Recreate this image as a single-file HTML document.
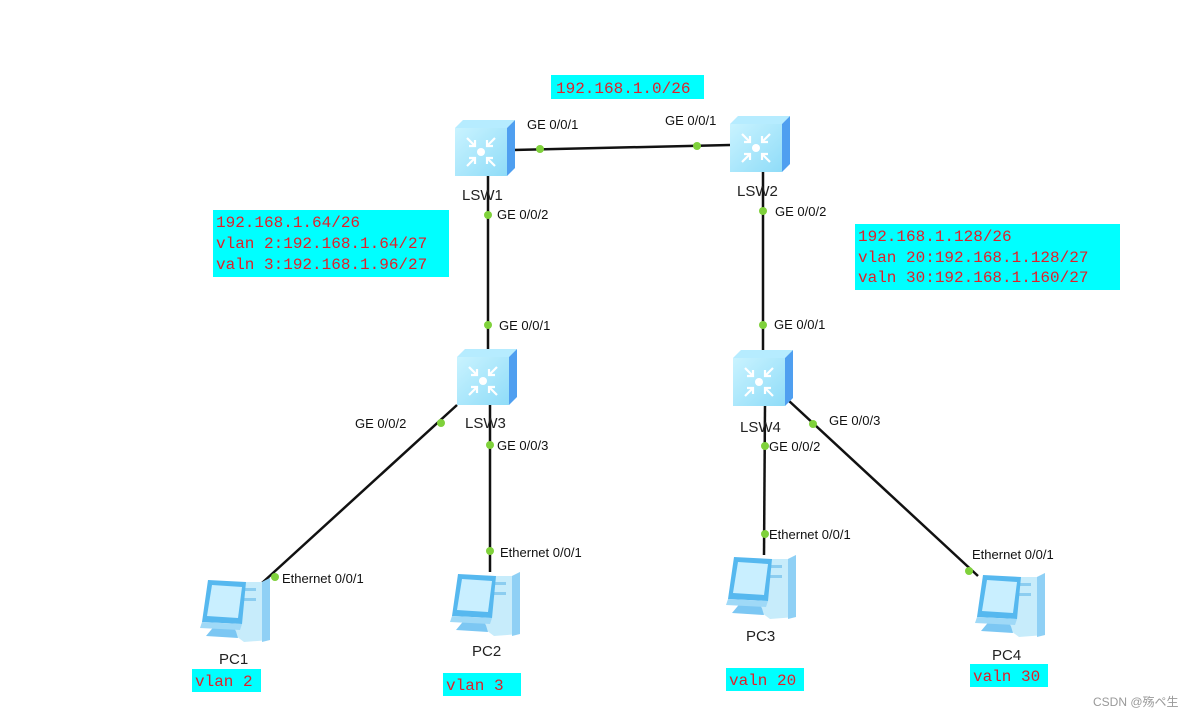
<!DOCTYPE html>
<html><head><meta charset="utf-8"><style>
html,body{margin:0;padding:0;background:#fff;}
svg{display:block;}
.l{font-family:"Liberation Sans",sans-serif;font-size:13px;fill:#111;}
.n{font-family:"Liberation Sans",sans-serif;font-size:15px;fill:#222;}
.r{font-family:"Liberation Mono",monospace;font-size:16px;fill:#e0202a;}
</style></head><body>
<svg width="1195" height="718" viewBox="0 0 1195 718" xmlns="http://www.w3.org/2000/svg">
<defs>
<linearGradient id="sg" x1="0" y1="0" x2="1" y2="1"><stop offset="0" stop-color="#c9f3ff"/><stop offset="1" stop-color="#8fdcf8"/></linearGradient>
<g id="sw">
  <polygon points="0,8 8,0 60,0 52,8" fill="#b6ecff"/>
  <polygon points="52,8 60,0 60,48 52,56" fill="#4f9ff0"/>
  <rect x="0" y="8" width="52" height="48" fill="url(#sg)"/>
  <circle cx="26" cy="32" r="4" fill="#fff"/>
  <g stroke="#fff" stroke-width="2.2" fill="none">
    <path d="M12 18 L20 26 M12 46 L20 38 M40 18 L32 26 M40 46 L32 38"/>
    <path d="M14 26 L20 26 L20 20 M14 38 L20 38 L20 44 M38 26 L32 26 L32 20 M38 38 L32 38 L32 44"/>
  </g>
</g>
<g id="pc">
  <polygon points="36,6 62,6 70,2 70,64 44,66 36,60" fill="#c7ecfb"/>
  <polygon points="62,6 70,2 70,64 62,66" fill="#8fd0f5"/>
  <rect x="38" y="12" width="18" height="3" fill="#8ccdf0"/>
  <rect x="38" y="22" width="18" height="3" fill="#8ccdf0"/>
  <polygon points="8,4 46,6 42,48 2,46" fill="#56b8ef"/>
  <polygon points="12,9 42,11 38,42 7,40" fill="#c9efff"/>
  <polygon points="16,48 34,49 38,62 6,60" fill="#7cc7f3"/>
  <polygon points="2,46 42,48 40,54 0,52" fill="#9fd9f7"/>
</g>
</defs>

<!-- lines -->
<g stroke="#111" stroke-width="2.5" fill="none">
  <line x1="513" y1="150" x2="730" y2="145"/>
  <line x1="488" y1="176" x2="488" y2="350"/>
  <line x1="763" y1="170" x2="763" y2="352"/>
  <line x1="457" y1="405" x2="262" y2="583"/>
  <line x1="490" y1="403" x2="490" y2="572"/>
  <line x1="765" y1="405" x2="764" y2="555"/>
  <line x1="788" y1="400" x2="978" y2="576"/>
</g>
<g fill="#7fd13b">
  <circle cx="540" cy="149" r="4"/><circle cx="697" cy="146" r="4"/>
  <circle cx="488" cy="215" r="4"/><circle cx="488" cy="325" r="4"/>
  <circle cx="763" cy="211" r="4"/><circle cx="763" cy="325" r="4"/>
  <circle cx="441" cy="423" r="4"/><circle cx="275" cy="577" r="4"/>
  <circle cx="490" cy="445" r="4"/><circle cx="490" cy="551" r="4"/>
  <circle cx="765" cy="446" r="4"/><circle cx="765" cy="534" r="4"/>
  <circle cx="813" cy="424" r="4"/><circle cx="969" cy="571" r="4"/>
</g>

<!-- switches -->
<use href="#sw" x="455" y="120"/>
<use href="#sw" x="730" y="116"/>
<use href="#sw" x="457" y="349"/>
<use href="#sw" x="733" y="350"/>
<text class="n" x="462" y="200">LSW1</text>
<text class="n" x="737" y="196">LSW2</text>
<text class="n" x="465" y="428">LSW3</text>
<text class="n" x="740" y="432">LSW4</text>

<!-- PCs -->
<use href="#pc" x="200" y="576"/>
<use href="#pc" x="450" y="570"/>
<use href="#pc" x="726" y="553"/>
<use href="#pc" x="975" y="571"/>
<text class="n" x="219" y="664">PC1</text>
<text class="n" x="472" y="656">PC2</text>
<text class="n" x="746" y="641">PC3</text>
<text class="n" x="992" y="660">PC4</text>

<!-- port labels -->
<text class="l" x="527" y="129">GE 0/0/1</text>
<text class="l" x="665" y="125">GE 0/0/1</text>
<text class="l" x="497" y="219">GE 0/0/2</text>
<text class="l" x="775" y="216">GE 0/0/2</text>
<text class="l" x="499" y="330">GE 0/0/1</text>
<text class="l" x="774" y="329">GE 0/0/1</text>
<text class="l" x="355" y="428">GE 0/0/2</text>
<text class="l" x="497" y="450">GE 0/0/3</text>
<text class="l" x="769" y="451">GE 0/0/2</text>
<text class="l" x="829" y="425">GE 0/0/3</text>
<text class="l" x="282" y="583">Ethernet 0/0/1</text>
<text class="l" x="500" y="557">Ethernet 0/0/1</text>
<text class="l" x="769" y="539">Ethernet 0/0/1</text>
<text class="l" x="972" y="559">Ethernet 0/0/1</text>

<!-- cyan boxes -->
<g fill="#00ffff">
  <rect x="551" y="75" width="153" height="24"/>
  <rect x="213" y="210" width="236" height="67"/>
  <rect x="855" y="224" width="265" height="66"/>
  <rect x="192" y="669" width="69" height="23"/>
  <rect x="443" y="673" width="78" height="23"/>
  <rect x="726" y="668" width="78" height="23"/>
  <rect x="970" y="664" width="78" height="23"/>
</g>
<text class="r" x="556" y="93">192.168.1.0/26</text>
<text class="r" x="216" y="227">192.168.1.64/26</text>
<text class="r" x="216" y="248">vlan 2:192.168.1.64/27</text>
<text class="r" x="216" y="269">valn 3:192.168.1.96/27</text>
<text class="r" x="858" y="241">192.168.1.128/26</text>
<text class="r" x="858" y="262">vlan 20:192.168.1.128/27</text>
<text class="r" x="858" y="282">valn 30:192.168.1.160/27</text>
<text class="r" x="195" y="686">vlan 2</text>
<text class="r" x="446" y="690">vlan 3</text>
<text class="r" x="729" y="685">valn 20</text>
<text class="r" x="973" y="681">valn 30</text>

<text x="1093" y="706" style="font-family:'Liberation Sans','Noto Sans CJK SC',sans-serif;font-size:12px;fill:#999">CSDN @殇ペ生</text>
</svg>
</body></html>
